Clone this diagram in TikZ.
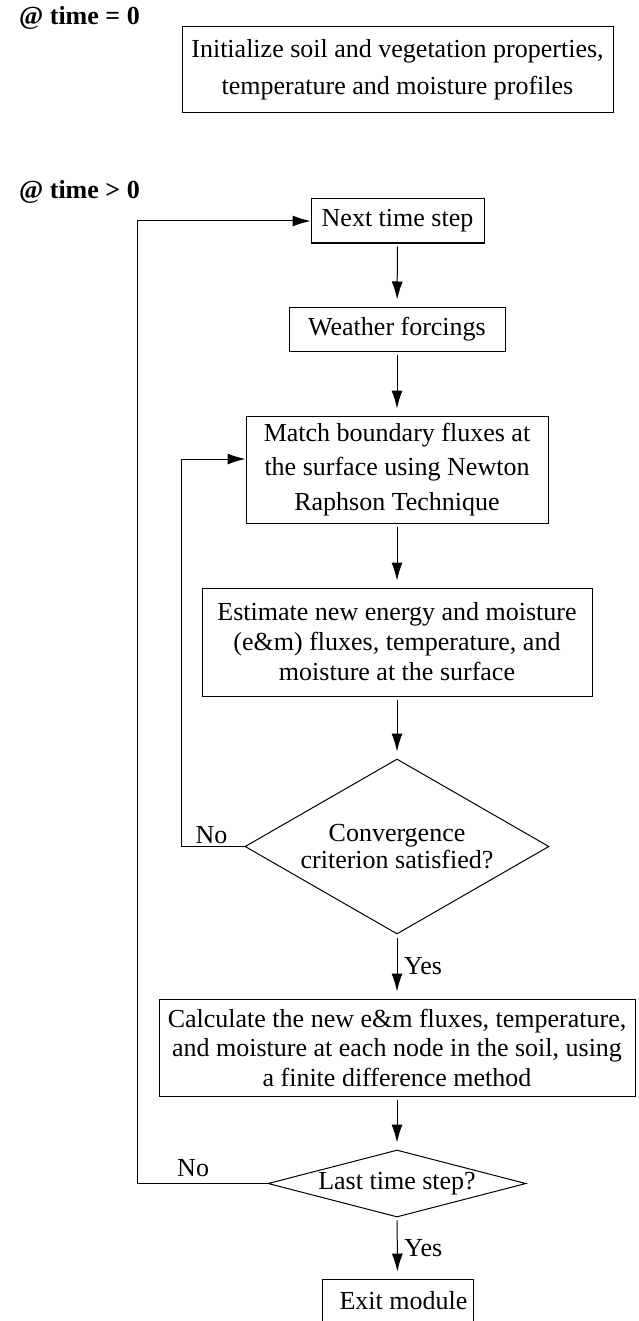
\documentclass[tikz,border=0pt]{standalone}
\usepackage{fontspec}
\setmainfont{Liberation Serif}
\usetikzlibrary{shapes.geometric,arrows.meta,positioning}

\newcommand{\flowfont}[1]{\fontsize{13}{#1}\selectfont}

\begin{document}
\begin{tikzpicture}[x=0.5pt,y=-0.5pt,line width=0.5pt,
		every node/.style={font=\flowfont{15}},
		procbox/.style={draw,rectangle,align=center,inner sep=0pt},
		testdiam/.style={draw,diamond,align=center,inner sep=0pt},
		flow/.style={-{Latex[length=9pt,width=5.5pt]},shorten <=1.5pt,shorten >=3.5pt},
		back/.style={-{Latex[length=9pt,width=5.5pt]}}]
		\useasboundingbox (0,0) rectangle (638,1321) ;
		\clip (0,0) rectangle (638,1321) ;

		% stages
		\node[anchor=west,font=\bfseries\flowfont{15}] (tzero) at (12,18) {@ time = 0} ;
		\node[anchor=west,font=\bfseries\flowfont{15}] (tpos) at (12,192) {@ time > 0} ;

		% boxes
		\node[procbox,minimum width=215.5pt,minimum height=43pt,font=\flowfont{18.5}] (init) at (397.5,70)
			{Initialize soil and vegetation properties,\\ temperature and moisture profiles} ;
		\node[procbox,minimum width=86.5pt,minimum height=22pt] (next) at (397.5,221) {Next time step} ;
		\node[procbox,minimum width=108pt,minimum height=22pt] (weather) at (397,329) {Weather forcings} ;
		\node[procbox,minimum width=151pt,minimum height=53.5pt,font=\flowfont{17.25}] (match) at (397,469.5)
			{Match boundary fluxes at\\ the surface using Newton\\ Raphson Technique} ;
		\node[procbox,minimum width=195pt,minimum height=54pt,font=\flowfont{15}] (estim) at (397,642)
			{Estimate new energy and moisture\\ (e\&m) fluxes, temperature, and\\ moisture at the surface} ;
		\node[testdiam,aspect=1.74,minimum width=152pt,minimum height=87.5pt,font=\flowfont{13.5}] (conv) at (397,846.5)
			{Convergence\\ criterion satisfied?} ;
		\node[procbox,minimum width=238pt,minimum height=48.5pt,font=\flowfont{14.75}] (calc) at (397,1047.5)
			{Calculate the new e\&m fluxes, temperature,\\ and moisture at each node in the soil, using\\ a finite difference method} ;
		\node[testdiam,aspect=3.85,minimum width=129pt,minimum height=33.5pt] (last) at (397,1183.5) {Last time step?} ;
		\node[procbox,minimum width=75.5pt,minimum height=22pt] (exit) at (397.5,1301) {\hspace{6pt}Exit module} ;

		% main flow
		\draw[flow] (next) -- (weather) ;
		\draw[flow] (weather) -- (match) ;
		\draw[flow] (match) -- (estim) ;
		\draw[flow] (estim) -- (conv) ;
		\draw[flow] (conv) -- node[right]{Yes} (calc) ;
		\draw[flow] (calc) -- (last) ;
		\draw[flow] (last) -- node[right]{Yes} (exit) ;

		% loops back
		\coordinate (innerturn) at (181,846.5) ;
		\coordinate (outerturn) at (137,1183.5) ;
		\draw[back] (conv.west) -- node[above,pos=0.52,inner sep=1pt]{No} (innerturn) |- ([yshift=5.25pt]match.west) ;
		\draw[back] (last.west) -- node[above,pos=0.57,inner sep=3pt]{No} (outerturn) |- (next.west) ;
	\end{tikzpicture}
\end{document}
